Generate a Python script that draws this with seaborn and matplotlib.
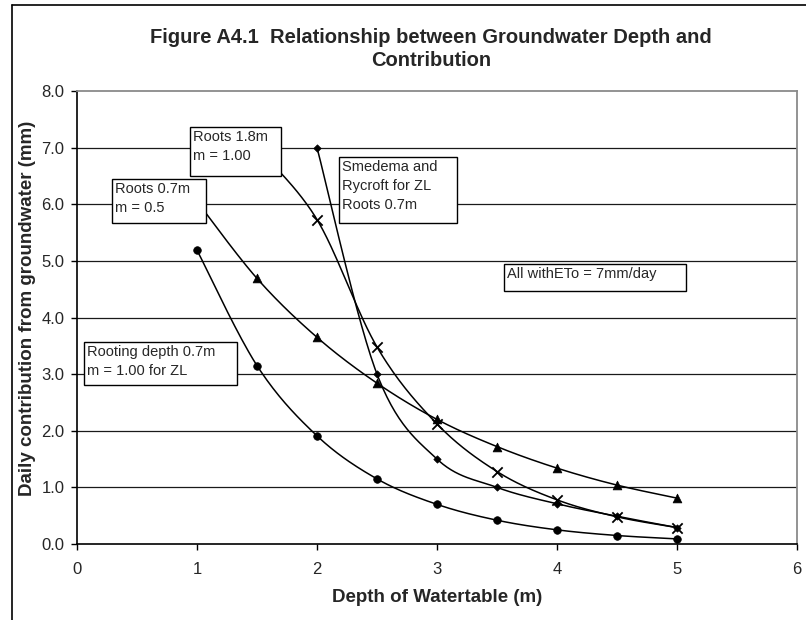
import numpy as np
import pandas as pd
import matplotlib
matplotlib.use("Agg")
import matplotlib.pyplot as plt
import seaborn as sns
from matplotlib.patches import Rectangle
from matplotlib.lines import Line2D

# ---------------- data ----------------
circ_x = [1.0, 1.5, 2.0, 2.5, 3.0, 3.5, 4.0, 4.5, 5.0]
circ_y = [5.19, 3.15, 1.91, 1.15, 0.70, 0.42, 0.25, 0.15, 0.09]

tri_x = [1.0, 1.5, 2.0, 2.5, 3.0, 3.5, 4.0, 4.5, 5.0]
tri_y = [6.05, 4.69, 3.65, 2.84, 2.20, 1.72, 1.34, 1.04, 0.81]

dia_x = [2.0, 2.5, 3.0, 3.5, 4.0, 4.5, 5.0]
dia_y = [7.00, 3.00, 1.50, 1.00, 0.71, 0.49, 0.29]

crs_x = [1.5, 2.0, 2.5, 3.0, 3.5, 4.0, 4.5, 5.0]
crs_y = [7.00, 5.73, 3.48, 2.12, 1.28, 0.78, 0.48, 0.29]

x_ticks = [0, 1, 2, 3, 4, 5, 6]
y_ticks = [0.0, 1.0, 2.0, 3.0, 4.0, 5.0, 6.0, 7.0, 8.0]

title = "Figure A4.1  Relationship between Groundwater Depth and\nContribution"
xlabel = "Depth of Watertable (m)"
ylabel = "Daily contribution from groundwater (mm)"

notes = [
    ("Roots 1.8m\nm = 1.00", (0.942, 7.364, 1.700, 6.499)),
    ("Roots 0.7m\nm = 0.5", (0.292, 6.446, 1.075, 5.669)),
    ("Smedema and\nRycroft for ZL\nRoots 0.7m", (2.183, 6.834, 3.167, 5.669)),
    ("All withETo = 7mm/day", (3.558, 4.945, 5.075, 4.468)),
    ("Rooting depth 0.7m\nm = 1.00 for ZL", (0.058, 3.567, 1.333, 2.808)),
]

# ---------------- helpers ----------------
def smooth(xs, ys, n=30):
    """Excel-like smoothed line: cubic Bezier with Catmull-Rom control points."""
    P = np.column_stack([xs, ys]).astype(float)
    m = len(P)
    out = []
    for i in range(m - 1):
        p0 = P[i - 1] if i > 0 else P[i]
        p1 = P[i]
        p2 = P[i + 1]
        p3 = P[i + 2] if i + 2 < m else P[i + 1]
        c1 = p1 + (p2 - p0) / 6.0
        c2 = p2 - (p3 - p1) / 6.0
        t = np.linspace(0, 1, n, endpoint=(i == m - 2))[:, None]
        seg = ((1 - t) ** 3) * p1 + 3 * ((1 - t) ** 2) * t * c1 + 3 * (1 - t) * t ** 2 * c2 + t ** 3 * p2
        out.append(seg)
    S = np.vstack(out)
    return S[:, 0], S[:, 1]

# ---------------- style ----------------
sns.set_style("white")
plt.rcParams["font.family"] = ["Liberation Sans", "DejaVu Sans"]

W, H = 806, 620
fig = plt.figure(figsize=(W / 100, H / 100), dpi=100)
L, R, T, B = 77, 797, 91, 544
ax = fig.add_axes([L / W, 1 - B / H, (R - L) / W, (B - T) / H])

series = [
    (circ_x, circ_y, "o", 30, 1.0),
    (tri_x, tri_y, "^", 40, 1.0),
    (dia_x, dia_y, "D", 14, 1.0),
    (crs_x, crs_y, "x", 55, 1.3),
]
for xs, ys, mk, s, lw in series:
    sx, sy = smooth(xs, ys)
    df = pd.DataFrame({"x": sx, "y": sy})
    sns.lineplot(data=df, x="x", y="y", sort=False, estimator=None, ax=ax,
                 color="black", lw=1.1, zorder=3)
    pts = pd.DataFrame({"x": xs, "y": ys})
    if mk == "x":
        sns.scatterplot(data=pts, x="x", y="y", marker=mk, s=s, color="black",
                        linewidth=lw, ax=ax, zorder=4)
    else:
        sns.scatterplot(data=pts, x="x", y="y", marker=mk, s=s, color="black",
                        edgecolor="black", linewidth=0.5, ax=ax, zorder=4)

ax.set_xlim(0, 6)
ax.set_ylim(0, 8)
ax.set_xticks(x_ticks)
ax.set_xticklabels([str(v) for v in x_ticks])
ax.set_yticks(y_ticks)
ax.set_yticklabels([f"{v:.1f}" for v in y_ticks])
ax.tick_params(axis="both", direction="out", length=4, width=1, color="black",
               labelsize=12, left=True, bottom=True)
ax.tick_params(axis="x", pad=9)
ax.tick_params(axis="y", pad=5)

for yv in y_ticks[1:-1]:
    ax.axhline(yv, color="#1a1a1a", lw=0.9, zorder=1)

for side in ["left", "bottom"]:
    ax.spines[side].set_color("black")
    ax.spines[side].set_linewidth(1.2)
for side in ["top", "right"]:
    ax.spines[side].set_color("#8a8a8a")
    ax.spines[side].set_linewidth(1.3)

ax.set_xlabel(xlabel, fontsize=13.5, fontweight="bold")
ax.set_ylabel(ylabel, fontsize=13.5, fontweight="bold")
ax.xaxis.set_label_coords((437 - L) / (R - L), (B - 598) / (B - T))
ax.yaxis.set_label_coords((28 - L) / (R - L), (B - 308) / (B - T))
ax.xaxis.label.set_va("center")
ax.yaxis.label.set_va("center")

for txt, (x0, y0, x1, y1) in notes:
    ax.add_patch(Rectangle((x0, y1), x1 - x0, y0 - y1, facecolor="white",
                           edgecolor="black", lw=1.0, zorder=6))
    ax.text(x0 + 3 / 120, y0 - 3 / 56.6, txt, ha="left", va="top", fontsize=10.5,
            linespacing=1.45, zorder=7)

fig.text(431 / W, 1 - 49 / H, title, ha="center", va="center", fontsize=14.5,
         fontweight="bold", linespacing=1.3)

# chart-area border (top and left edges visible)
fig.add_artist(Line2D([12 / W, 1.0], [1 - 5 / H, 1 - 5 / H], color="black", lw=1.2,
                      transform=fig.transFigure))
fig.add_artist(Line2D([12 / W, 12 / W], [0, 1 - 5 / H], color="black", lw=1.2,
                      transform=fig.transFigure))

fig.savefig("out.png", dpi=100)
